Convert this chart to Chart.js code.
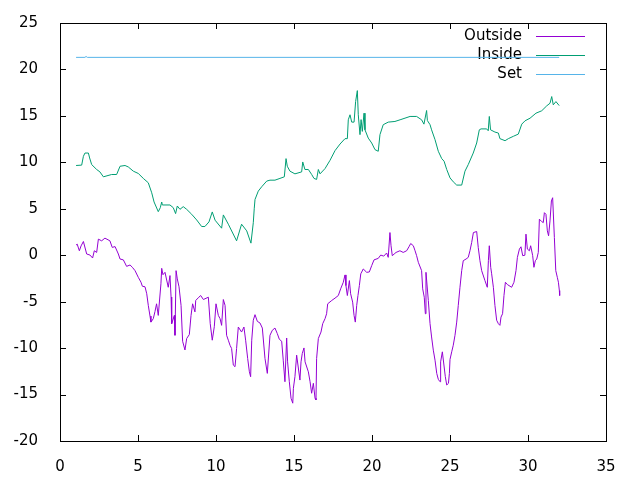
<!DOCTYPE html>
<html>
<head>
<meta charset="utf-8">
<script src="https://cdn.jsdelivr.net/npm/chart.js@4/dist/chart.umd.min.js"></script>
<style>
  html, body { margin: 0; padding: 0; background: #fff; }
  #wrap { width: 640px; height: 480px; }
</style>
</head>
<body>
<div id="wrap"><canvas id="grafico" width="640" height="480"></canvas></div>
<script>
// series names and colours (gnuplot default palette)
const seriesNames = ['Outside', 'Inside', 'Set'];
const seriesColors = ['#9400d3', '#009e73', '#56b4e9'];

// axis ticks
const xTicks = [0, 5, 10, 15, 20, 25, 30, 35];
const yTicks = [-20, -15, -10, -5, 0, 5, 10, 15, 20, 25];

// Outside temperature
const outsideX = [1.03,1.10,1.24,1.35,1.50,1.71,1.92,2.09,2.20,2.35,2.46,2.67,2.88,3.20,3.35,3.53,3.74,3.85,4.06,4.27,4.49,4.64,4.81,5.02,5.19,5.28,5.45,5.56,5.66,5.77,5.83,5.98,6.09,6.19,6.30,6.47,6.52,6.60,6.73,6.94,7.05,7.12,7.16,7.33,7.37,7.44,7.52,7.63,7.76,7.86,8.01,8.12,8.29,8.40,8.50,8.65,8.70,8.90,9.02,9.19,9.51,9.63,9.76,9.89,10.00,10.15,10.26,10.36,10.47,10.58,10.68,10.79,10.90,11.00,11.11,11.22,11.32,11.43,11.64,11.79,11.90,12.03,12.14,12.22,12.29,12.39,12.50,12.65,12.82,12.97,13.14,13.29,13.46,13.61,13.78,13.93,14.06,14.21,14.31,14.42,14.53,14.59,14.70,14.81,14.92,14.96,15.06,15.17,15.38,15.45,15.53,15.64,15.71,15.92,16.03,16.13,16.24,16.35,16.41,16.45,16.56,16.73,16.84,16.99,17.09,17.16,17.42,17.63,17.84,17.99,18.16,18.27,18.33,18.42,18.55,18.63,18.76,18.85,18.93,19.02,19.10,19.19,19.28,19.44,19.66,19.83,19.98,20.13,20.40,20.56,20.75,20.94,21.04,21.15,21.22,21.30,21.47,21.54,21.79,22.00,22.22,22.37,22.48,22.65,22.76,22.86,22.97,23.18,23.25,23.35,23.42,23.46,23.61,23.72,23.82,23.93,24.04,24.15,24.25,24.36,24.40,24.51,24.70,24.79,24.90,24.96,25.00,25.11,25.21,25.32,25.43,25.53,25.64,25.75,25.85,26.03,26.17,26.28,26.39,26.50,26.71,26.81,26.92,27.03,27.24,27.39,27.46,27.52,27.61,27.67,27.78,27.88,27.99,28.10,28.20,28.27,28.37,28.46,28.55,28.68,28.95,29.10,29.23,29.32,29.45,29.55,29.66,29.80,29.87,29.96,30.09,30.17,30.30,30.38,30.47,30.56,30.66,30.73,30.88,30.98,31.05,31.15,31.24,31.32,31.41,31.50,31.58,31.69,31.78,31.88,31.95,32.01,32.03];
const outsideY = [1.09,1.20,0.48,1.00,1.48,0.13,0.02,-0.30,0.48,0.30,1.73,1.55,1.84,1.55,0.84,0.93,0.13,-0.41,-0.50,-1.20,-1.05,-1.30,-1.66,-2.38,-2.90,-3.34,-3.40,-4.15,-5.40,-6.55,-7.20,-6.83,-6.05,-5.23,-6.48,-3.08,-1.41,-2.10,-1.84,-3.45,-2.19,-4.50,-7.37,-6.48,-8.62,-1.66,-2.55,-3.40,-5.40,-9.26,-10.20,-8.97,-8.54,-6.48,-5.23,-6.10,-4.87,-4.52,-4.34,-4.77,-4.52,-7.37,-9.15,-7.70,-5.23,-6.48,-6.83,-7.55,-4.77,-5.40,-8.62,-9.15,-9.70,-10.04,-11.83,-12.00,-10.04,-7.73,-8.27,-7.73,-9.15,-11.11,-12.55,-13.08,-9.15,-7.00,-6.40,-7.12,-7.30,-7.84,-11.11,-12.72,-8.62,-8.08,-7.84,-8.44,-9.05,-9.26,-11.30,-13.62,-8.91,-11.48,-13.62,-15.40,-15.93,-14.33,-13.08,-10.76,-13.44,-11.48,-10.58,-9.98,-11.48,-12.55,-13.62,-14.86,-13.79,-15.40,-15.58,-11.11,-8.97,-8.27,-7.37,-6.83,-6.30,-5.23,-4.87,-4.62,-4.34,-3.62,-2.91,-2.12,-3.27,-4.34,-2.73,-4.15,-5.05,-6.48,-7.20,-5.40,-4.34,-3.27,-2.00,-1.48,-1.84,-1.80,-1.12,-0.50,-0.34,0.02,-0.10,0.24,-0.23,2.44,1.02,-0.05,0.20,0.30,0.48,0.30,0.48,0.91,1.26,1.02,0.48,-0.05,-0.77,-1.66,-3.62,-4.52,-6.30,-1.84,-4.87,-7.37,-8.80,-10.22,-11.30,-12.72,-13.36,-13.62,-11.48,-10.40,-13.08,-13.97,-13.79,-12.72,-11.22,-10.40,-9.69,-8.62,-7.20,-5.40,-3.45,-1.66,-0.59,-0.41,-0.23,0.48,1.37,2.44,2.55,0.84,-0.59,-1.66,-2.73,-3.45,-0.59,1.02,-1.30,-2.00,-3.45,-5.40,-7.00,-7.37,-7.55,-6.66,-6.30,-4.34,-2.91,-3.16,-3.45,-2.91,-1.66,-0.23,0.66,0.91,-0.05,0.00,2.27,0.66,0.48,1.02,-0.05,-1.30,-0.59,-0.41,0.30,3.88,3.62,3.51,4.58,4.41,2.62,2.09,3.69,5.84,6.19,1.91,-1.66,-2.38,-2.91,-3.80,-4.34];

// Inside temperature
const insideX = [1.03,1.39,1.50,1.60,1.82,1.90,2.03,2.35,2.56,2.78,3.31,3.63,3.85,4.17,4.38,4.70,5.02,5.34,5.66,5.88,6.03,6.30,6.43,6.52,6.56,7.05,7.26,7.41,7.52,7.69,7.90,8.12,8.44,8.76,9.08,9.29,9.55,9.76,9.94,10.36,10.47,10.79,11.32,11.64,11.97,12.24,12.39,12.45,12.50,12.71,12.93,13.25,13.46,13.78,14.10,14.38,14.49,14.57,14.74,15.06,15.49,15.56,15.70,15.92,16.13,16.28,16.45,16.56,16.67,16.99,17.31,17.63,17.95,18.27,18.42,18.48,18.59,18.70,18.85,18.95,19.06,19.12,19.23,19.30,19.38,19.49,19.55,19.76,19.98,20.19,20.40,20.51,20.72,21.04,21.47,21.80,22.44,22.86,23.18,23.33,23.50,23.55,23.72,23.82,24.04,24.25,24.47,24.62,24.79,25.00,25.21,25.43,25.75,25.96,26.17,26.49,26.71,26.88,26.99,27.35,27.45,27.52,27.60,27.88,28.10,28.20,28.53,28.74,29.06,29.38,29.60,29.81,30.13,30.51,30.88,31.20,31.41,31.52,31.62,31.79,32.00];
const insideY = [9.66,9.70,10.65,11.00,11.00,10.47,9.76,9.23,8.97,8.44,8.69,8.69,9.58,9.66,9.50,9.05,8.80,8.27,7.80,6.72,5.73,4.69,5.12,5.73,5.41,5.41,5.12,4.48,5.30,4.94,5.23,4.94,4.41,3.80,3.09,3.09,3.59,4.66,3.77,2.91,4.34,3.34,1.55,3.34,2.62,1.30,3.50,5.00,6.00,6.90,7.37,7.98,8.08,8.08,8.27,8.44,10.40,9.58,9.05,8.76,8.97,10.04,9.23,9.23,8.70,8.27,8.16,9.23,8.76,9.33,10.22,11.26,11.97,12.55,12.55,14.58,15.12,14.33,14.33,16.54,17.72,15.12,12.98,14.60,13.33,15.29,13.50,12.61,12.08,11.37,11.19,12.98,14.05,14.33,14.40,14.58,14.94,14.94,14.58,14.11,15.58,14.50,14.05,13.50,12.44,11.19,10.40,10.12,9.23,8.33,7.90,7.55,7.55,9.05,9.76,11.00,12.08,13.50,13.60,13.60,13.40,14.94,13.50,13.26,13.15,12.55,12.33,12.55,12.80,13.04,14.11,14.47,14.75,15.29,15.55,16.08,16.36,17.08,16.19,16.54,16.11];

// Set point
const setX = [1.03, 1.60, 1.67, 1.75, 32.00];
const setY = [21.3, 21.3, 21.4, 21.3, 21.3];

const FONTE = '"DejaVu Sans", sans-serif';

function pontos(xs, ys) {
    return xs.map((x, i) => ({ x: x, y: ys[i] }));
}

// gnuplot-style frame: border box + ticks pointing inwards on all four sides
const molduraPlugin = {
    id: 'moldura',
    afterDatasetsDraw(chart) {
        const { ctx, chartArea: a, scales } = chart;
        ctx.save();
        ctx.strokeStyle = '#000';
        ctx.lineWidth = 1;
        ctx.beginPath();
        xTicks.forEach(v => {
            const px = Math.round(scales.x.getPixelForValue(v)) + 0.5;
            ctx.moveTo(px, a.bottom); ctx.lineTo(px, a.bottom - 6);
            ctx.moveTo(px, a.top); ctx.lineTo(px, a.top + 6);
        });
        yTicks.forEach(v => {
            const py = Math.round(scales.y.getPixelForValue(v)) + 0.5;
            ctx.moveTo(a.left, py); ctx.lineTo(a.left + 6, py);
            ctx.moveTo(a.right, py); ctx.lineTo(a.right - 6, py);
        });
        ctx.stroke();
        ctx.strokeRect(Math.round(a.left) + 0.5, Math.round(a.top) + 0.5,
                       Math.round(a.right - a.left), Math.round(a.bottom - a.top));
        ctx.restore();
    }
};

// gnuplot-style key: right aligned text, sample line on the right
const legendaPlugin = {
    id: 'legenda',
    beforeDatasetsDraw(chart) {
        const { ctx } = chart;
        ctx.save();
        ctx.font = '15px ' + FONTE;
        ctx.textAlign = 'right';
        ctx.textBaseline = 'middle';
        chart.data.datasets.forEach((ds, i) => {
            const y = 36 + i * 19;
            ctx.fillStyle = '#000';
            ctx.fillText(ds.label, 522, y);
            ctx.strokeStyle = ds.borderColor;
            ctx.lineWidth = 1;
            ctx.beginPath();
            ctx.moveTo(536, y + 0.5);
            ctx.lineTo(585, y + 0.5);
            ctx.stroke();
        });
        ctx.restore();
    }
};

const dados = [pontos(outsideX, outsideY), pontos(insideX, insideY), pontos(setX, setY)];

new Chart(document.getElementById('grafico'), {
    type: 'line',
    data: {
        datasets: seriesNames.map((nome, i) => ({
            label: nome,
            data: dados[i],
            borderColor: seriesColors[i],
            backgroundColor: seriesColors[i],
            borderWidth: 1,
            pointRadius: 0,
            tension: 0,
            fill: false,
            order: 2 - i
        }))
    },
    options: {
        responsive: false,
        animation: false,
        layout: { padding: { left: 0, right: 34, top: 21, bottom: 0 } },
        plugins: { legend: { display: false }, tooltip: { enabled: false } },
        scales: {
            x: {
                type: 'linear',
                min: 0, max: 35,
                afterBuildTicks: s => { s.ticks = xTicks.map(v => ({ value: v })); },
                afterFit: s => { s.height = 39; },
                grid: { display: false },
                border: { display: false },
                ticks: { color: '#000', font: { family: FONTE, size: 15 }, padding: 9, maxRotation: 0 }
            },
            y: {
                type: 'linear',
                min: -20, max: 25,
                afterBuildTicks: s => { s.ticks = yTicks.map(v => ({ value: v })); },
                afterFit: s => { s.width = 60; },
                grid: { display: false },
                border: { display: false },
                ticks: { color: '#000', font: { family: FONTE, size: 15 }, padding: 14 }
            }
        }
    },
    plugins: [molduraPlugin, legendaPlugin]
});
</script>
</body>
</html>
